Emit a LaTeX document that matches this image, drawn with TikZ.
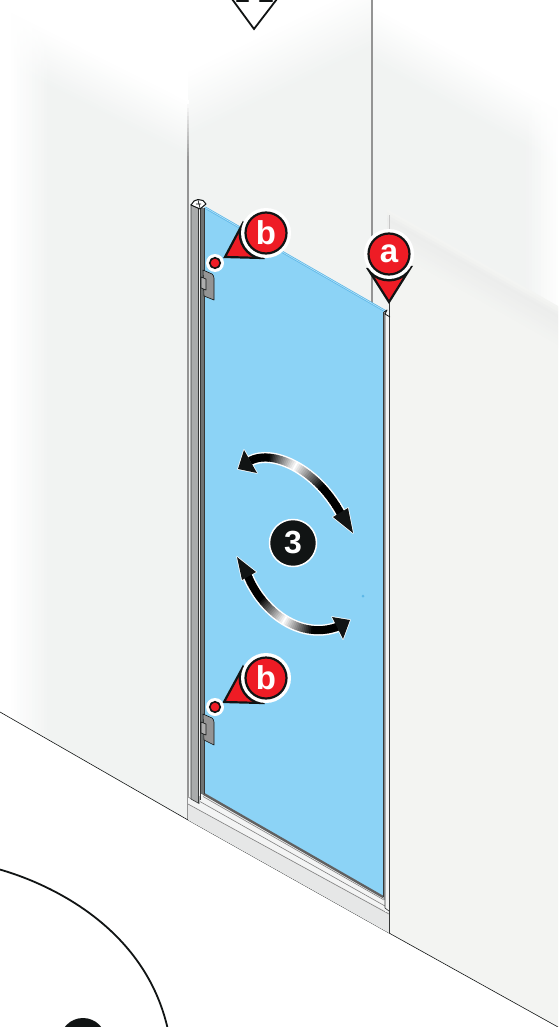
\documentclass[tikz,border=0pt]{standalone}
\usepackage{fontspec}
\setmainfont{Liberation Sans}
\definecolor{wall}{HTML}{F1F3F2}
\definecolor{walllow}{HTML}{F3F4F2}
\definecolor{wallband}{HTML}{ECEDEC}
\definecolor{ink}{HTML}{111414}
\definecolor{glass}{HTML}{8CD3F6}
\definecolor{glassedge}{HTML}{5DB8E8}
\definecolor{redc}{HTML}{EE1C25}
\definecolor{post}{HTML}{A9ABAB}
\definecolor{postd}{HTML}{6F7373}
\definecolor{sill}{HTML}{E6E7E7}
\definecolor{silltop}{HTML}{F3F4F4}
\tikzset{
  wline/.style={draw=ink,line width=.6pt},
  vline/.style={draw=black!42,line width=1.2pt},
  frameedge/.style={draw=ink!85,line width=.6pt},
  silledge/.style={draw=black!50,line width=.6pt},
  redball/.style={circle,fill=redc,draw=ink,line width=2.2pt,minimum size=41pt,inner sep=0pt,text=white,font=\fontsize{33}{33}\selectfont\bfseries},
  ballhalo/.style={circle,fill=white,minimum size=50pt,inner sep=0pt},
  redtri/.style={fill=redc,draw=ink,line width=2.2pt,line join=miter},
  reddot/.style={circle,fill=redc,draw=ink,line width=1.6pt,minimum size=10.5pt,inner sep=0pt},
  dothalo/.style={circle,fill=white,minimum size=18pt,inner sep=0pt},
  stepball/.style={circle,fill=ink,draw=white,line width=1.5pt,minimum size=47pt,inner sep=0pt,text=white,font=\fontsize{32}{32}\selectfont\bfseries},
  hinge/.style={fill=black!42,draw=ink,line width=.6pt,line join=round},
  headtip/.style={fill=ink,draw=white,line width=1.5pt,line join=round},
}
% wall with diagonal fade from white (line a) to wall over 25 strips
\newcommand{\fadewall}[6]{%
  \begin{scope}
    \clip #1;
    \fill[wall] #1;
    \foreach \k in {24,23,...,0}{
      \pgfmathsetmacro{\pc}{4*\k}
      \fill[wall!\pc!white] (#2,#3+\k*#6-300) -- (#4,#5+\k*#6-300) -- (#4,#5+\k*#6+#6) -- (#2,#3+\k*#6+#6) -- cycle;
    }
  \end{scope}}
% gradient arrow body along a cubic
\newcommand{\gradbody}[8]{%
  \draw[white,line width=11pt] (#1,#2) .. controls (#3,#4) and (#5,#6) .. (#7,#8);
  \foreach \i in {0,...,59}{
    \pgfmathsetmacro{\ta}{\i/60}
    \pgfmathsetmacro{\tb}{(\i+1.4)/60}
    \pgfmathsetmacro{\xa}{(1-\ta)^3*#1+3*(1-\ta)^2*\ta*#3+3*(1-\ta)*\ta^2*#5+\ta^3*#7}
    \pgfmathsetmacro{\ya}{(1-\ta)^3*#2+3*(1-\ta)^2*\ta*#4+3*(1-\ta)*\ta^2*#6+\ta^3*#8}
    \pgfmathsetmacro{\xb}{(1-\tb)^3*#1+3*(1-\tb)^2*\tb*#3+3*(1-\tb)*\tb^2*#5+\tb^3*#7}
    \pgfmathsetmacro{\yb}{(1-\tb)^3*#2+3*(1-\tb)^2*\tb*#4+3*(1-\tb)*\tb^2*#6+\tb^3*#8}
    \pgfmathsetmacro{\pc}{min(100,abs(\ta-0.5)*100/0.27)}
    \draw[black!\pc!white,line width=8pt] (\xa,\ya) -- (\xb,\yb);
  }}
% callout: #1 name, #2 ball pos, #3 triangle path, #4 letter
\newcommand{\callout}[4]{%
  \draw[redtri] #3;
  \begin{scope}
    \clip #3;
    \fill[ink] #2 circle (27.5);
  \end{scope}
  \node[ballhalo] (#1h) at #2 {};
  \node[redball] (#1) at #2 {#4};}
\begin{document}
\begin{tikzpicture}[x=1pt,y=-1pt]
\useasboundingbox (0,0) rectangle (558,1027);
\clip (0,0) rectangle (558,1027);
\fill[white] (0,0) rectangle (558,1027);
% walls
\fadewall{(0,0) -- (188,0) -- (188,820) -- (0,712) -- cycle}{0}{5}{188}{100}{2.2}
\fadewall{(188,0) -- (372,0) -- (372,900) -- (188,820) -- cycle}{188}{70}{372}{-20}{2.6}
\fadewall{(372,0) -- (558,0) -- (558,1027) -- (389,933) -- (372,920) -- cycle}{372}{5}{558}{108}{2.2}
% soft left edge of left wall
\begin{scope}
  \clip (0,0) -- (188,0) -- (188,820) -- (0,712) -- cycle;
  \foreach \k in {0,...,13}{
    \pgfmathsetmacro{\op}{1-\k/14}
    \fill[white,opacity=\op] (8+\k*3,0) rectangle (11.2+\k*3,760);
  }
  \fill[white] (0,0) rectangle (8,760);
\end{scope}
% soft right edge of right wall
\foreach \k in {0,...,11}{
  \pgfmathsetmacro{\op}{\k/12}
  \fill[white,opacity=\op] (523+\k*3,0) rectangle (526.2+\k*3,312);
}
% lower right wall with diagonal band
\fill[walllow] (389,211) -- (558,307) -- (558,1027) -- (389,1027) -- cycle;
\foreach \k in {0,...,13}{
  \pgfmathsetmacro{\pc}{\k<3 ? 100*\k/3 : 100*(13-\k)/10}
  \fill[wallband!\pc!walllow] (387,209+\k*3) -- (558,306+\k*3) -- (558,309.2+\k*3) -- (387,212.2+\k*3) -- cycle;
}
% floor
\fill[white] (0,712) -- (188,820) -- (389,933) -- (558,1027) -- (0,1027) -- cycle;
% wall lines
\foreach \k in {0,...,15}{
  \pgfmathsetmacro{\pc}{\k*42/15}
  \draw[black!\pc,line width=1.2pt] (188,100+\k*4) -- (188,104.5+\k*4);
}
\draw[vline] (188,163) -- (188,820);
\draw[vline] (372,0) -- (372,306);
\draw[draw=black!22,line width=.8pt] (389,215) -- (389,240);
\draw[wline] (0,712) -- (188,820) -- (389,933) -- (558,1027);
% sill
\fill[silltop] (188,797) -- (204,793) -- (384,896) -- (389,913) -- (188,804) -- cycle;
\fill[sill] (188,804) -- (389,913) -- (389,933) -- (188,820) -- cycle;
\draw[silledge] (188,797) -- (199,803);
\draw[silledge] (188,804) -- (389,914);
\draw[silledge] (199,801) -- (385,906);
% glass
\fill[glass] (204,207) -- (384,311) -- (384,897) -- (204,793) -- cycle;
\draw[glassedge,line width=2.2pt] (205,207.5) -- (386,311.5);
\draw[glass!60!white,line width=.6pt] (205,207.5) -- (386,311.5);
% bottom channel
\draw[black!62,line width=2.4pt] (203,793.5) -- (384,897.5);
\draw[silledge] (203,796.5) -- (384,900);
% left post
\fill[post] (191,204) -- (198,208) -- (198,803) -- (191,799) -- cycle;
\fill[silltop] (198,208) rectangle (200,803);
\fill[postd] (200,208) rectangle (204.5,794);
\draw[frameedge] (191,204) -- (191,799) -- (199,803.5) -- (199,796);
\draw[frameedge] (198,208) -- (198,803);
\draw[frameedge] (200,208) -- (200,800);
\draw[frameedge] (204.5,208) -- (204.5,794);
\fill[white,draw=ink,line width=1pt,line join=round] (191,205) -- (194,201) -- (198,199.5) -- (203,200.5) -- (206,204) -- (200,209) -- cycle;
\draw[ink,line width=.7pt] (198,200) -- (200,208) (196,204) -- (201,204);
% right frame
\fill[post] (383,312) rectangle (385,900);
\fill[silltop] (385,312) rectangle (389,912);
\draw[frameedge] (383,312) -- (383,897);
\draw[frameedge] (385,313) -- (385,908) -- (389,911);
\draw[frameedge] (389,303) -- (389,933);
\draw[ink,line width=.8pt,line join=round] (384,312) -- (387,310) -- (385,314) -- (390,317);
% hinges
\draw[hinge] (203,270) -- (212,274) .. controls (213,275) and (214,276) .. (214,278) -- (214,300) -- (204,296) -- cycle;
\draw[hinge,fill=black!32] (201,277) -- (206,279) -- (206,290) -- (201,288) -- cycle;
\draw[hinge] (203,714) -- (212,718) .. controls (213,719) and (214,720) .. (214,722) -- (214,745) -- (204,740) -- cycle;
\draw[hinge,fill=black!32] (201,722) -- (206,724) -- (206,735) -- (201,733) -- cycle;
% gradient arrows
\draw[headtip] (244,450) -- (238,469) -- (257,473) -- cycle;
\draw[headtip] (348,508) -- (353,533) -- (333,517) -- cycle;
\gradbody{250}{461}{272}{449}{316}{468}{341}{514}
\fill[ink] (244,450) -- (238,469) -- (257,473) -- cycle;
\fill[ink] (348,508) -- (353,533) -- (333,517) -- cycle;
\draw[headtip] (237,557) -- (256,572) -- (242,580) -- cycle;
\draw[headtip] (332,617) -- (350,620) -- (343,639) -- cycle;
\gradbody{247}{574}{262}{612}{300}{640}{337}{627}
\fill[ink] (237,557) -- (256,572) -- (242,580) -- cycle;
\fill[ink] (332,617) -- (350,620) -- (343,639) -- cycle;
\node[stepball] (three) at (293,543) {3};
\fill[glassedge] (363,596) circle (1.5pt);
% callouts
\callout{bu}{(266,233)}{(243,223) -- (225,257) -- (263,258) -- cycle}{b}
\node[dothalo] (d1h) at (215,263) {};
\node[reddot] (d1) at (215,263) {};
\callout{bl}{(266,678)}{(243,667) -- (224,702) -- (263,703) -- cycle}{b}
\node[dothalo] (d2h) at (215,707) {};
\node[reddot] (d2) at (215,707) {};
\callout{aa}{(389,254)}{(368,269) -- (411,267) -- (389,302) -- cycle}{a}
% top arrow
\draw[ink,line width=1.8pt,line join=miter] (232,-1) -- (254,29) -- (277,-1);
\draw[ink,line width=2.4pt,line cap=round] (237,1) -- (248,1) (260,1) -- (272,1);
% detail circle
\draw[ink,line width=1.8pt] (-2,869) .. controls (45,882) and (145,925) .. (168,1030);
\fill[ink] (83,1041) circle (23);
\end{tikzpicture}
\end{document}
